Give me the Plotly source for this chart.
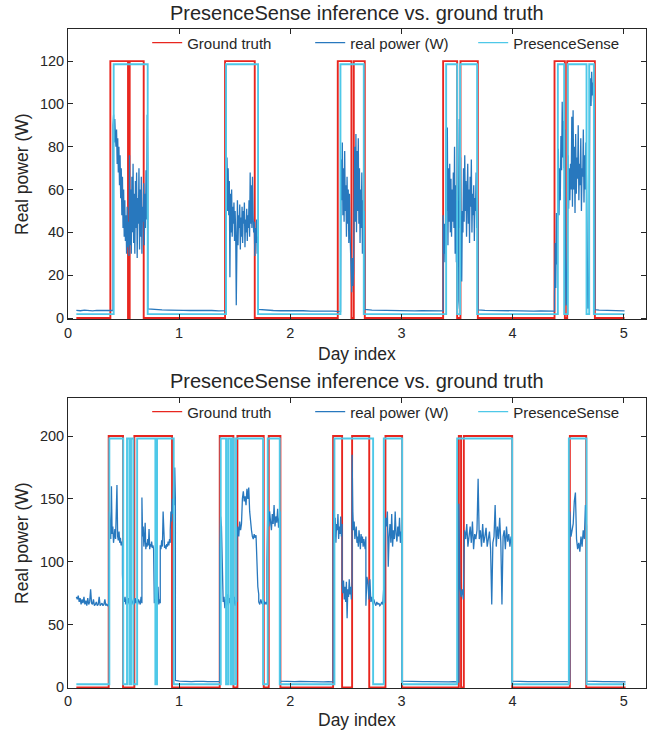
import numpy as np
import plotly.graph_objects as go

# ---------------- data ----------------
X_TICKS = [0, 1, 2, 3, 4, 5]
TOP_Y_TICKS = [0, 20, 40, 60, 80, 100, 120]
BOT_Y_TICKS = [0, 50, 100, 150, 200]
SERIES_NAMES = ["Ground truth", "real power (W)", "PresenceSense"]

# ---- top panel ----
top_span = (0.075, 5.007)
top_truth_on = [(0.381, 0.540), (0.555, 0.681), (1.413, 1.680), (2.427, 2.550),
                (2.571, 2.670), (3.375, 3.501), (3.531, 3.687), (4.377, 4.470),
                (4.491, 4.740)]
top_sense_on = [(0.411, 0.717), (1.422, 1.710), (2.451, 2.661), (3.402, 3.501),
                (3.528, 3.681), (4.407, 4.464), (4.497, 4.665), (4.689, 4.731)]
top_truth_levels = (0.0, 120.0)
top_sense_levels = (1.8, 118.5)

top_power_bounds = [0.075, 0.405, 0.718, 1.420, 1.712, 2.452, 2.670,
                    3.375, 3.688, 4.377, 4.740, 5.007]
top_idle_1 = [3.6, 3.4, 3.7, 3.5, 3.3, 3.6, 3.5, 3.4, 3.6, 3.5]
top_busy_1 = [90, 95, 82, 93, 85, 80, 88, 72, 84, 68, 80, 62, 76, 56,
              70, 48, 66, 42, 60, 38, 55, 36, 48, 30, 52, 33, 45, 29,
              76, 34, 60, 30, 66, 40, 72, 35, 58, 30, 64, 42, 68, 28,
              56, 44, 70, 32, 60, 38, 66, 30, 52, 45, 63, 34, 58, 42,
              69, 46, 95, 72]
top_idle_2 = [4.2, 3.9, 3.8, 3.7, 3.8, 3.6, 3.5, 3.6, 3.4, 3.5, 3.3, 3.4]
top_busy_2 = [94, 62, 75, 50, 70, 48, 64, 19, 58, 40, 60, 38, 52, 44,
              54, 36, 50, 40, 6, 46, 55, 34, 48, 42, 53, 32, 47, 38,
              52, 35, 50, 44, 54, 33, 46, 40, 51, 36, 48, 42, 55, 38,
              68, 44, 62, 42, 66, 48, 40, 45, 29, 42, 35, 46, 30, 38, 33]
top_idle_3 = [4.0, 3.6, 3.5, 3.4, 3.5, 3.3, 3.4, 3.2, 3.3, 3.1, 3.2, 3.0]
top_busy_3 = [50, 74, 55, 82, 48, 70, 45, 78, 50, 62, 38, 66, 44, 60,
              35, 58, 40, 30, 25, 12, 28, 15, 22, 60, 80, 45, 86, 40,
              78, 50, 84, 44, 70, 35, 60, 42, 68, 30, 55, 38, 50, 29]
top_idle_4 = [4.0, 3.7, 3.6, 3.5, 3.6, 3.4, 3.5, 3.3, 3.4, 3.3, 3.2, 3.3]
top_busy_4 = [48, 30, 44, 26, 40, 88, 50, 89, 34, 70, 45, 72, 40, 65,
              38, 60, 45, 68, 42, 80, 30, 62, 26, 55, 4.4, 8, 60, 93,
              42, 75, 37, 17, 50, 40, 70, 45, 76, 50, 64, 38, 58, 72,
              44, 60, 35, 66, 52, 74, 40, 58, 48, 62, 36, 56, 50, 68,
              42, 58, 46]
top_idle_5 = [3.8, 3.6, 3.5, 3.5, 3.4, 3.3, 3.4, 3.3, 3.2, 3.3, 3.1, 3.2]
top_busy_5 = [10, 35, 14, 49, 25, 45, 79, 48, 70, 55, 85, 69, 101, 75,
              92, 70, 88, 30, 5.9, 8, 40, 76, 51, 70, 55, 72, 60, 94,
              52, 97, 60, 80, 49, 86, 58, 75, 65, 90, 55, 72, 62, 84,
              50, 70, 66, 88, 54, 76, 60, 82, 62, 20, 4.4, 5, 30, 100,
              112, 99, 115, 104, 110, 101, 108, 60]
top_idle_6 = [3.9, 3.7, 3.6, 3.5, 3.6, 3.4, 3.5, 3.3]

# ---- bottom panel ----
bot_span = (0.075, 5.016)
bot_truth_on = [(0.366, 0.495), (0.597, 0.936), (1.365, 1.488), (1.524, 1.761),
                (1.806, 1.911), (2.385, 2.466), (2.556, 2.710), (2.856, 3.006),
                (3.516, 3.536), (3.561, 3.996), (4.515, 4.662)]
bot_sense_on = [(0.372, 0.497), (0.531, 0.552), (0.567, 0.588), (0.622, 0.786),
                (0.801, 0.951), (1.374, 1.422), (1.440, 1.461), (1.476, 1.491),
                (1.512, 1.755), (1.797, 1.905), (2.397, 2.745), (2.841, 3.006),
                (3.501, 3.996), (4.506, 4.665)]
bot_truth_levels = (0.0, 200.0)
bot_sense_levels = (2.5, 198.0)

bot_power_bounds = [0.075, 0.366, 0.490, 0.665, 0.770, 0.830, 0.920, 0.966,
                    1.365, 1.520, 1.716, 1.790, 1.910, 2.385, 2.466, 2.556,
                    2.680, 2.850, 3.006, 3.516, 3.996, 4.515, 4.665, 5.016]
bot_idle_0 = [72, 70, 73, 68, 71, 66, 70, 67, 72, 66, 69, 65, 71, 66, 68,
              78, 67, 66, 70, 65, 66, 68, 65, 66, 72, 65, 66, 67, 65, 66,
              70, 65, 66, 65, 66]
bot_b1a = [66, 140, 125, 118, 160, 122, 128, 115, 120, 126, 118, 135, 161,
           120, 117, 124, 115, 119, 113, 116, 112]
bot_b1b = [90, 70, 68, 72, 66, 70, 67, 71, 66, 69, 72, 66, 68, 70, 66, 71,
           67, 69, 66, 70, 68, 66, 72, 67]
bot_b1c = [151, 120, 128, 112, 118, 131, 110, 115, 112, 118, 113, 126, 110,
           114, 112, 116, 111, 113, 110]
bot_b1d = [72, 67, 70, 66, 72, 68, 80, 66, 70, 67]
bot_b1e = [113, 110, 117, 112, 140, 115, 111, 113, 110, 114, 112, 116, 113,
           118, 115]
bot_b1f = [125, 140, 132, 150, 138, 160, 145, 175, 150]
bot_idle_1 = [5.5, 5.0, 4.8, 4.9, 4.6, 4.8, 4.5, 4.7, 4.6, 4.4, 4.6, 4.5]
bot_b2a = [110, 136, 128, 75, 68, 72, 63, 70, 66, 74, 65, 71, 67, 78, 64,
           70, 66, 72, 65, 69, 68]
bot_b2b = [118, 128, 120, 132, 125, 130, 150, 156, 148, 152, 145, 158, 150,
           159, 140, 130, 125, 120, 118, 122, 119, 121, 88, 80, 74]
bot_b2c = [68, 66, 70, 67, 66, 69, 66, 68, 66]
bot_b2d = [100, 145, 128, 140, 132, 125, 138, 130, 145, 128, 136, 131, 142,
           127, 134, 140]
bot_idle_2 = [5.0, 4.7, 4.8, 4.6, 4.7, 4.5, 4.6, 4.4, 4.5, 4.3, 4.5, 4.4]
bot_b3a = [110, 141, 120, 135, 115, 130, 125, 138, 118, 128, 122, 136, 120, 130]
bot_b3b = [82, 75, 85, 70, 80, 68, 84, 55, 78, 72, 86, 74, 80, 70, 83]
bot_b3c = [185, 140, 125, 132, 118, 122, 128, 115, 120, 112, 125, 118, 110,
           122, 115, 120, 112, 118, 115, 110, 120]
bot_b3d = [65, 88, 84, 70, 86, 68, 72, 66, 70, 67, 65, 68, 66, 67, 65, 66,
           68, 66, 80, 67]
bot_b3e = [110, 135, 128, 140, 96, 120, 130, 115, 138, 112, 125, 118, 140,
           122, 116, 128, 120, 135, 115, 124, 118]
bot_idle_3 = [5.0, 4.8, 4.6, 4.7, 4.5, 4.6, 4.4, 4.5, 4.3, 4.4, 4.5, 4.3]
bot_b4 = [146, 80, 72, 78, 70, 125, 118, 130, 112, 120, 128, 115, 132, 110,
          122, 118, 125, 166, 118, 125, 112, 130, 115, 120, 127, 112, 118,
          124, 110, 66, 115, 120, 145, 112, 128, 118, 135, 115, 66, 120,
          125, 110, 128, 116, 122, 112, 120, 117]
bot_idle_4 = [5.0, 4.7, 4.8, 4.6, 4.5, 4.6, 4.4, 4.5, 4.3, 4.4, 4.5, 4.4]
bot_b5 = [140, 120, 125, 130, 148, 155, 118, 110, 115, 108, 120, 112, 125,
          118, 145, 128]
bot_idle_5 = [5.0, 4.7, 4.6, 4.5, 4.6, 4.4, 4.5, 4.3]

top_power_parts = [top_idle_1, top_busy_1, top_idle_2, top_busy_2, top_idle_3,
                   top_busy_3, top_idle_4, top_busy_4, top_idle_5, top_busy_5,
                   top_idle_6]
bot_power_parts = [bot_idle_0, bot_b1a, bot_b1b, bot_b1c, bot_b1d, bot_b1e,
                   bot_b1f, bot_idle_1, bot_b2a, bot_b2b, bot_b2c, bot_b2d,
                   bot_idle_2, bot_b3a, bot_b3b, bot_b3c, bot_b3d, bot_b3e,
                   bot_idle_3, bot_b4, bot_idle_4, bot_b5, bot_idle_5]


# ---------------- helpers ----------------
def step_series(span, on_intervals, levels):
    lo, hi = levels
    xs, ys = [span[0]], [lo]
    for a, b in on_intervals:
        xs += [a, b]
        ys += [hi, lo]
    xs.append(span[1])
    ys.append(lo)
    return xs, ys


def sampled_series(bounds, parts):
    xs, ys = [], []
    for i, vals in enumerate(parts):
        xs.extend(np.linspace(bounds[i], bounds[i + 1], len(vals)).tolist())
        ys.extend(vals)
    return xs, ys


RED = "#E8261F"
BLUE = "#2878BE"
CYAN = "#4EC8E8"
COLORS = [RED, BLUE, CYAN]
INK = "#262626"
FONT = "Liberation Sans, Arial, Helvetica, sans-serif"

fig = go.Figure()


def add_panel(fig, xref, yref, legend, span, truth_on, truth_lv, sense_on, sense_lv,
              bounds, parts):
    tx, ty = step_series(span, truth_on, truth_lv)
    px, py = sampled_series(bounds, parts)
    sx, sy = step_series(span, sense_on, sense_lv)
    fig.add_trace(go.Scatter(x=tx, y=ty, mode="lines", line_shape="hv",
                             name=SERIES_NAMES[0], line=dict(color=RED, width=1.9),
                             xaxis=xref, yaxis=yref, showlegend=False))
    fig.add_trace(go.Scatter(x=px, y=py, mode="lines",
                             name=SERIES_NAMES[1], line=dict(color=BLUE, width=1.3),
                             xaxis=xref, yaxis=yref, showlegend=False))
    fig.add_trace(go.Scatter(x=sx, y=sy, mode="lines", line_shape="hv",
                             name=SERIES_NAMES[2], line=dict(color=CYAN, width=1.9),
                             xaxis=xref, yaxis=yref, showlegend=False))
    # legend entries (drawn with thinner sample lines, as in the reference)
    for name, col in zip(SERIES_NAMES, COLORS):
        fig.add_trace(go.Scatter(x=[None], y=[None], mode="lines", name=name,
                                 line=dict(color=col, width=1.3),
                                 xaxis=xref, yaxis=yref, legend=legend,
                                 hoverinfo="skip"))


add_panel(fig, "x", "y", "legend", top_span, top_truth_on, top_truth_levels,
          top_sense_on, top_sense_levels, top_power_bounds, top_power_parts)
add_panel(fig, "x2", "y2", "legend2", bot_span, bot_truth_on, bot_truth_levels,
          bot_sense_on, bot_sense_levels, bot_power_bounds, bot_power_parts)

axis_common = dict(showline=True, mirror="ticks", linecolor=INK, linewidth=1,
                   ticks="inside", ticklen=5, tickcolor=INK, showgrid=False,
                   zeroline=False, tickfont=dict(size=14.5, color=INK, family=FONT))

TOP_DOMAIN = [0.5595, 1.0]
BOT_DOMAIN = [0.0, 0.4396]

legend_common = dict(orientation="h", x=0.137, xanchor="left", yanchor="middle",
                     bgcolor="rgba(0,0,0,0)", font=dict(size=15, color=INK, family=FONT),
                     entrywidth=118, entrywidthmode="pixels", tracegroupgap=0)

fig.update_layout(
    width=655, height=731,
    margin=dict(l=68, r=9, t=29, b=43),
    paper_bgcolor="white", plot_bgcolor="white",
    font=dict(family=FONT, color=INK),
    xaxis=dict(domain=[0, 1], range=[0, 5.2], tickvals=X_TICKS, anchor="y", **axis_common),
    yaxis=dict(domain=TOP_DOMAIN, range=[-0.6, 135], tickvals=TOP_Y_TICKS, anchor="x",
               **axis_common),
    xaxis2=dict(domain=[0, 1], range=[0, 5.2], tickvals=X_TICKS, anchor="y2", **axis_common),
    yaxis2=dict(domain=BOT_DOMAIN, range=[-0.5, 230], tickvals=BOT_Y_TICKS, anchor="x2",
                **axis_common),
    legend=dict(y=0.9788, **legend_common),
    legend2=dict(y=0.4189, **legend_common),
    showlegend=True,
)

H = 659.0


def ypaper(pix):
    return (688.0 - pix) / H


def xpaper(pix):
    return (pix - 68.0) / 578.0


ann = []
for title_y, label_y, ylab_y in [(13, 354, 174), (381, 720, 543)]:
    ann.append(dict(text="PresenceSense inference vs. ground truth", x=xpaper(357),
                    y=ypaper(title_y), xref="paper", yref="paper", showarrow=False,
                    xanchor="center", yanchor="middle",
                    font=dict(size=20, color=INK, family=FONT)))
    ann.append(dict(text="Day index", x=xpaper(357), y=ypaper(label_y), xref="paper",
                    yref="paper", showarrow=False, xanchor="center", yanchor="middle",
                    font=dict(size=17.5, color=INK, family=FONT)))
    ann.append(dict(text="Real power (W)", x=xpaper(22), y=ypaper(ylab_y), xref="paper",
                    yref="paper", showarrow=False, xanchor="center", yanchor="middle",
                    textangle=-90, font=dict(size=17.5, color=INK, family=FONT)))
fig.update_layout(annotations=ann)

fig.write_html("out.html")
